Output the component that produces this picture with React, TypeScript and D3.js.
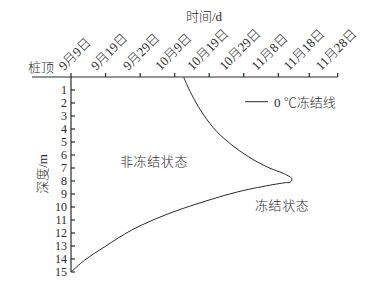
import React from "react";
import * as d3 from "d3";

// ---- data ----
const dateLabels = ["9月9日", "9月19日", "9月29日", "10月9日", "10月19日", "10月29日", "11月8日", "11月18日", "11月28日"];
const tickDays = [0, 10, 20, 30, 40, 50, 60, 70, 80]; // days after 9月9日
const depthTicks = [1, 2, 3, 4, 5, 6, 7, 8, 9, 10, 11, 12, 13, 14, 15];
// 0 ℃ freezing line: day offset vs depth (m)
const lineDays = [32.6, 33.6, 35.5, 38.4, 42.2, 47.2, 52.9, 57.6, 61.6, 64.3, 64.4, 63.8, 62.2, 52.9, 46.6, 36.9, 27.4, 17.6, 9.8, 4.0, 0];
const lineDepth = [0, 0.62, 1.64, 2.92, 4.2, 5.36, 6.38, 7.02, 7.41, 7.79, 7.92, 8.1, 8.13, 8.56, 8.95, 9.72, 10.6, 11.77, 13.05, 14.08, 15];

const W = 366, H = 291;
const FONT = "'Liberation Serif', 'Times New Roman', 'Noto Sans CJK SC', serif";
const INK = "#2a2a2a";

export default function App() {
  // polylinear x scale (the original axis has uneven tick spacing near the end)
  const x = d3.scaleLinear().domain([0, 60, 70, 80]).range([71, 278.3, 309.3, 337.7]);
  const y = d3.scaleLinear().domain([0, 15]).range([77, 272]);
  const labelX = d3.scalePoint<string>().domain(dateLabels).range([64, 321]);

  const pts: [number, number][] = lineDays.map((d, i) => [d, lineDepth[i]]);
  const line = d3
    .line<[number, number]>()
    .x((p) => x(p[0]))
    .y((p) => y(p[1]))
    .curve(d3.curveCatmullRom.alpha(0.5));

  const y0 = y(0);
  const x0 = x(0);

  return (
    <svg
      width={W}
      height={H}
      style={{ position: "absolute", left: 0, top: 0, background: "#fff" }}
      fontFamily={FONT}
    >
      <rect width={W} height={H} fill="#fff" />
      {/* title */}
      <text x={204} y={21} textAnchor="middle" fontSize={13} fill={INK} fontWeight={300}>
        时间/d
      </text>
      {/* 桩顶 */}
      <text x={28} y={72} fontSize={13} fill={INK} fontWeight={300}>
        桩顶
      </text>
      {/* top axis */}
      <line x1={32} x2={x(80)} y1={y0} y2={y0} stroke={INK} strokeWidth={1.2} />
      {tickDays.map((d) => (
        <line key={d} x1={x(d)} x2={x(d)} y1={y0} y2={y0 - 4} stroke={INK} strokeWidth={1.2} />
      ))}
      {dateLabels.map((l) => (
        <text
          key={l}
          transform={`translate(${labelX(l)},71) rotate(-45)`}
          fontSize={13}
          fill={INK}
          fontWeight={300}
        >
          {l}
        </text>
      ))}
      {/* left axis */}
      <line x1={x0} x2={x0} y1={y0} y2={y(15)} stroke={INK} strokeWidth={1.2} />
      {depthTicks.map((t) => (
        <g key={t}>
          <line x1={x0} x2={x0 + 4} y1={y(t)} y2={y(t)} stroke={INK} strokeWidth={1.2} />
          <text x={67} y={y(t) + 4.3} textAnchor="end" fontSize={12} fill={INK}>
            {t}
          </text>
        </g>
      ))}
      <text transform={`translate(47,174) rotate(-90)`} textAnchor="middle" fontSize={13} fill={INK} fontWeight={300}>
        深度/m
      </text>
      {/* freezing line */}
      <path d={line(pts) || ""} fill="none" stroke={INK} strokeWidth={1} />
      {/* legend */}
      <line x1={245} x2={268} y1={101.7} y2={101.7} stroke={INK} strokeWidth={1} />
      <text x={274} y={106.5} fontSize={13} fill={INK} fontWeight={300}>
        0 ℃冻结线
      </text>
      {/* region labels */}
      <text x={120} y={166} fontSize={13} fill={INK} fontWeight={300} letterSpacing={0.6}>
        非冻结状态
      </text>
      <text x={255} y={210} fontSize={13} fill={INK} fontWeight={300} letterSpacing={0.6}>
        冻结状态
      </text>
    </svg>
  );
}
